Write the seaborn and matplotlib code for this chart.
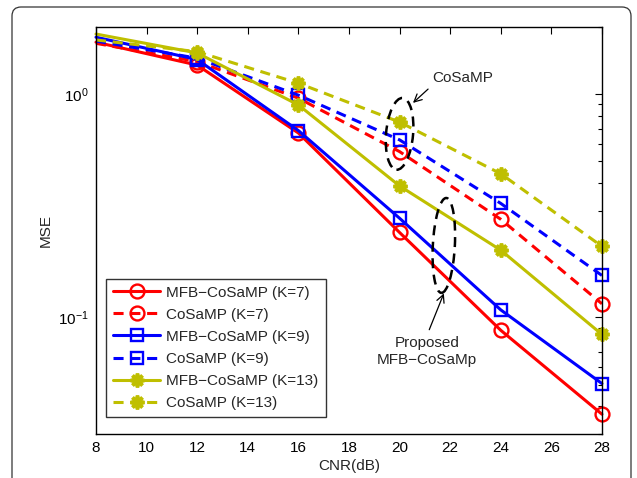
import numpy as np
import pandas as pd
import matplotlib
matplotlib.use("Agg")
import matplotlib.pyplot as plt
import seaborn as sns
from matplotlib.patches import Ellipse, FancyBboxPatch
from matplotlib.transforms import IdentityTransform
from matplotlib.ticker import LogLocator, NullFormatter

# CNR sweep (dB)
cnr = [8, 12, 16, 20, 24, 28]

# MSE curves
mse_mfb_k7 = [1.71, 1.35, 0.670, 0.240, 0.0875, 0.0368]
mse_cosamp_k7 = [1.69, 1.40, 0.960, 0.553, 0.275, 0.115]
mse_mfb_k9 = [1.80, 1.43, 0.687, 0.278, 0.108, 0.0505]
mse_cosamp_k9 = [1.73, 1.45, 0.990, 0.624, 0.324, 0.154]
mse_mfb_k13 = [1.86, 1.53, 0.895, 0.388, 0.200, 0.0838]
mse_cosamp_k13 = [1.75, 1.55, 1.120, 0.750, 0.440, 0.208]

labels = ["MFB\u2212CoSaMP (K=7)", "CoSaMP (K=7)",
          "MFB\u2212CoSaMP (K=9)", "CoSaMP (K=9)",
          "MFB\u2212CoSaMP (K=13)", "CoSaMP (K=13)"]
series = [mse_mfb_k7, mse_cosamp_k7, mse_mfb_k9, mse_cosamp_k9,
          mse_mfb_k13, mse_cosamp_k13]

RED = (1, 0, 0)
BLUE = (0, 0, 1)
OLIVE = (0.75, 0.75, 0)
styles = [
    dict(color=RED, ls="-", marker="o", ms=10, mew=1.7),
    dict(color=RED, ls="--", marker="o", ms=10, mew=1.7),
    dict(color=BLUE, ls="-", marker="s", ms=8.6, mew=1.7),
    dict(color=BLUE, ls="--", marker="s", ms=8.6, mew=1.7),
    dict(color=OLIVE, ls="-", marker=(8, 2, 0), ms=10, mew=2.6),
    dict(color=OLIVE, ls="--", marker=(8, 2, 0), ms=10, mew=2.6),
]

FS = 11

sns.set_theme(style="white")
plt.rcParams["font.family"] = ["Liberation Sans", "DejaVu Sans"]
plt.rcParams["mathtext.default"] = "regular"
plt.rcParams["axes.linewidth"] = 1.0

fig = plt.figure(figsize=(6.37, 4.78), dpi=100)
ax = fig.add_axes([0.1507, 0.092, 0.7943, 0.8515])

for lab, vals, st in zip(labels, series, styles):
    df = pd.DataFrame({"CNR": cnr, "MSE": vals})
    sns.lineplot(data=df, x="CNR", y="MSE", ax=ax, color=st["color"],
                 linestyle=st["ls"], marker=st["marker"],
                 markersize=st["ms"], markevery=list(range(1, len(cnr))),
                 markerfacecolor="none", markeredgecolor=st["color"],
                 markeredgewidth=st["mew"], linewidth=2.2, label=lab,
                 errorbar=None)
for ln in ax.get_lines():
    ln.set_clip_on(False)
    if ln.get_linestyle() == "--":
        ln.set_dashes((3.3, 2.2))

ax.set_yscale("log")
ax.set_xlim(8, 28)
ax.set_ylim(0.03, 2.0)
ax.set_xticks(np.arange(8, 29, 2))
ax.yaxis.set_major_locator(LogLocator(base=10))
ax.yaxis.set_minor_locator(LogLocator(base=10, subs=np.arange(2, 10)))
ax.yaxis.set_minor_formatter(NullFormatter())
ax.tick_params(which="both", direction="in", top=True, right=True,
               labelsize=FS, colors="black")
ax.tick_params(which="major", length=5, width=0.8)
ax.tick_params(which="minor", length=3, width=0.8)
ax.tick_params(axis="x", which="minor", bottom=False, top=False)
ax.tick_params(axis="x", pad=5)
ax.tick_params(axis="y", pad=5)
for sp in ax.spines.values():
    sp.set_color("black")
ax.set_xlabel("CNR(dB)", fontsize=FS, labelpad=3)
ax.set_ylabel("MSE", fontsize=FS, labelpad=4)

leg = ax.legend(loc="lower left", bbox_to_anchor=(0.02, 0.042),
                borderaxespad=0, fontsize=FS, frameon=True, fancybox=False,
                edgecolor="black", handlelength=3.1, handletextpad=0.4,
                labelspacing=0.53, borderpad=0.45, numpoints=1)
leg.get_frame().set_linewidth(1.0)

fig.canvas.draw()


def dashed_ellipse(xd, yd, w, h, angle):
    cx, cy = ax.transData.transform((xd, yd))
    e = Ellipse((cx, cy), w, h, angle=angle, transform=IdentityTransform(),
                fill=False, edgecolor="black", linewidth=1.8,
                linestyle=(0, (4, 2.6)))
    fig.add_artist(e)


dashed_ellipse(20.0, 0.664, 27, 72, -5)
dashed_ellipse(21.75, 0.21, 22, 95, -3)

ax.annotate("CoSaMP", xy=(20.53, 0.914), xytext=(22.5, 1.18),
            fontsize=FS, ha="center", va="center",
            arrowprops=dict(arrowstyle="->,head_length=0.5,head_width=0.25",
                            color="black", lw=0.9, relpos=(0, 0),
                            shrinkA=1, shrinkB=0))
ax.annotate("Proposed\nMFB\u2212CoSaMp", xy=(21.75, 0.128),
            xytext=(21.08, 0.0705), fontsize=FS, ha="center", va="center",
            multialignment="center", linespacing=1.3,
            arrowprops=dict(arrowstyle="->,head_length=0.5,head_width=0.25",
                            color="black", lw=0.9, relpos=(0.5, 1),
                            shrinkA=2, shrinkB=0))

frame = FancyBboxPatch((12, -30), 619, 501, boxstyle="round,pad=0,rounding_size=9",
                       transform=IdentityTransform(), fill=False,
                       edgecolor="#333333", linewidth=0.9)
fig.add_artist(frame)

fig.savefig("out.png", dpi=100, facecolor="white")
